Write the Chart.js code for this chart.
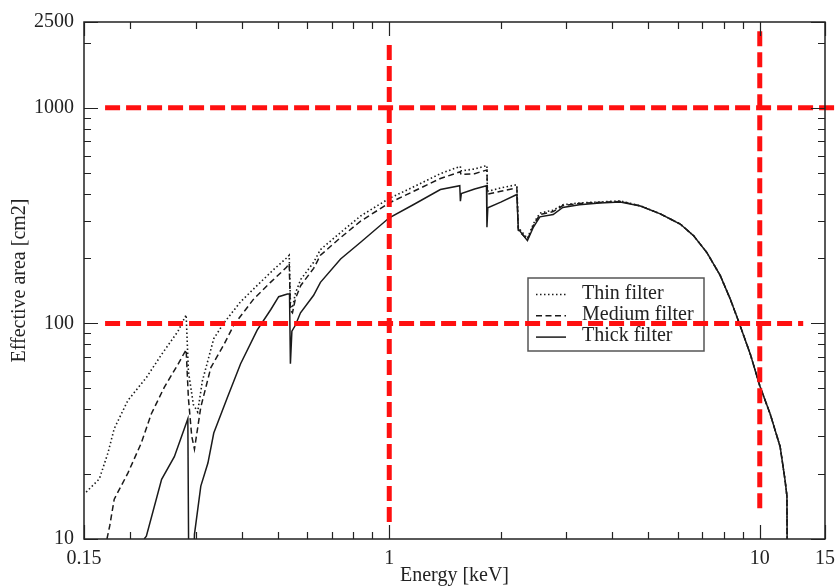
<!DOCTYPE html>
<html>
<head>
<meta charset="utf-8">
<script src="https://cdn.jsdelivr.net/npm/chart.js@4/dist/chart.umd.min.js"></script>
<style>
  html, body { margin: 0; padding: 0; background: #fff; }
  #wrap { width: 836px; height: 586px; }
</style>
</head>
<body>
<div id="wrap"><canvas id="effArea"></canvas></div>
<script>
// energy in keV, effective area in cm2
let thinEnergy = [0.152, 0.165, 0.174, 0.181, 0.197, 0.221, 0.243, 0.269, 0.283, 0.287, 0.296, 0.304, 0.313, 0.336, 0.357, 0.397, 0.44, 0.488, 0.528, 0.537, 0.541, 0.548, 0.558, 0.577, 0.625, 0.652, 0.739, 0.837, 1.0, 1.164, 1.374, 1.555, 1.562, 1.7, 1.835, 1.84, 1.85, 2.0, 2.21, 2.23, 2.36, 2.45, 2.55, 2.77, 2.94, 3.26, 3.7, 4.2, 4.76, 5.39, 6.1, 6.63, 7.2, 7.82, 8.32, 8.77, 9.43, 10.0, 10.67, 11.35, 11.7, 11.84, 11.86];
let thinArea = [16.5, 19.0, 25, 32.5, 43.9, 56.1, 71.8, 91.9, 109.6, 60, 42, 38.8, 54, 85, 100, 126, 150, 178, 201, 207, 125, 118, 138, 160, 192, 220, 264, 315, 380, 430, 495, 535, 510, 520, 540, 415, 410, 425, 440, 278, 248, 290, 325, 335, 355, 362, 366, 370, 351, 322, 289, 255, 213, 167, 130, 102, 72, 51.4, 38, 26.8, 18.8, 15.8, 8];

let mediumEnergy = [0.173, 0.176, 0.181, 0.197, 0.214, 0.228, 0.247, 0.269, 0.283, 0.287, 0.293, 0.298, 0.31, 0.33, 0.358, 0.381, 0.431, 0.478, 0.528, 0.537, 0.541, 0.548, 0.558, 0.577, 0.625, 0.652, 0.739, 0.837, 1.0, 1.164, 1.374, 1.555, 1.562, 1.7, 1.835, 1.84, 1.85, 2.0, 2.21, 2.23, 2.36, 2.45, 2.55, 2.77, 2.94, 3.26, 3.7, 4.2, 4.76, 5.39, 6.1, 6.63, 7.2, 7.82, 8.32, 8.77, 9.43, 10.0, 10.67, 11.35, 11.7, 11.84, 11.86];
let mediumArea = [10, 11.5, 15.3, 20.2, 27.8, 38.1, 50.5, 64.6, 75.6, 45, 30, 26.1, 40.9, 62.4, 79.8, 98.6, 130, 155, 182, 190, 115, 112, 130, 150, 180, 207, 250, 298, 362, 410, 470, 505, 490, 495, 515, 405, 398, 410, 425, 270, 245, 285, 320, 330, 352, 360, 364, 368, 351, 322, 289, 255, 213, 167, 130, 102, 72, 51.4, 38, 26.8, 18.8, 15.8, 8];

let thickEnergy = [0.218, 0.221, 0.243, 0.263, 0.286, 0.2875, 0.297, 0.298, 0.31, 0.324, 0.336, 0.365, 0.397, 0.44, 0.479, 0.503, 0.531, 0.538, 0.541, 0.546, 0.558, 0.576, 0.625, 0.652, 0.739, 0.837, 1.0, 1.164, 1.374, 1.55, 1.556, 1.565, 1.7, 1.83, 1.835, 1.845, 2.0, 2.21, 2.23, 2.36, 2.45, 2.55, 2.77, 2.94, 3.26, 3.7, 4.2, 4.76, 5.39, 6.1, 6.63, 7.2, 7.82, 8.32, 8.77, 9.43, 10.0, 10.67, 11.35, 11.7, 11.84, 11.86];
let thickArea = [10, 10.3, 18.9, 24.1, 36.1, 8, 8, 10.5, 17.6, 22.5, 31, 45, 65, 93, 116, 133, 137, 137, 65, 92, 98, 112, 135, 155, 199, 238, 309, 356, 418, 435, 369, 400, 420, 435, 279, 344, 365, 396, 274, 242, 280, 312, 320, 345, 355, 362, 366, 350, 322, 289, 255, 213, 167, 130, 102, 72, 51.4, 38, 26.8, 18.8, 15.8, 8];

let seriesNames = ["Thin filter", "Medium filter", "Thick filter"];

// red marker lines
let refEnergies = [1, 10];
let refAreas = [100, 1000];

let xTickValues = [0.15, 0.2, 0.3, 0.4, 0.5, 0.6, 0.7, 0.8, 0.9, 1, 2, 3, 4, 5, 6, 7, 8, 9, 10, 15];
let xTickLabels = [0.15, 1, 10, 15];
let yTickValues = [10, 20, 30, 40, 50, 60, 70, 80, 90, 100, 200, 300, 400, 500, 600, 700, 800, 900, 1000, 2000, 2500];
let yTickLabels = [10, 100, 1000, 2500];

function toPoints(xs, ys) {
    return xs.map((v, i) => ({x: v, y: ys[i]}));
}

// how far each red line runs, in data units
let vLineSpans = [[12, 2018], [13.9, 2366]];
let hLineSpans = [[0.171, 13.1], [0.171, 16.2]];

let refStyle = {
    borderColor: "#ff1010",
    borderWidth: 5,
    borderDash: [15, 6],
    pointRadius: 0,
    showLine: true,
    clip: false,
    order: 0
};

let datasets = [];
refEnergies.forEach((e, i) => {
    datasets.push(Object.assign({data: [{x: e, y: vLineSpans[i][0]}, {x: e, y: vLineSpans[i][1]}]}, refStyle));
});
refAreas.forEach((a, i) => {
    datasets.push(Object.assign({data: [{x: hLineSpans[i][0], y: a}, {x: hLineSpans[i][1], y: a}]}, refStyle));
});

let curveStyles = [
    {borderDash: [1.5, 2.5], borderWidth: 1.6},
    {borderDash: [6, 3.5], borderWidth: 1.5},
    {borderDash: [], borderWidth: 1.5}
];
[[thinEnergy, thinArea], [mediumEnergy, mediumArea], [thickEnergy, thickArea]].forEach((s, i) => {
    datasets.push({
        label: seriesNames[i],
        data: toPoints(s[0], s[1]),
        borderColor: "#1a1a1a",
        borderWidth: curveStyles[i].borderWidth,
        borderDash: curveStyles[i].borderDash,
        pointRadius: 0,
        showLine: true,
        tension: 0,
        order: 1
    });
});

let serif = "'Liberation Serif', 'Times New Roman', serif";

// legend box inside the plot, drawn under the red lines
const boxLegend = {
    id: "boxLegend",
    beforeDatasetsDraw(chart) {
        let ctx = chart.ctx;
        ctx.save();
        ctx.fillStyle = "#fff";
        ctx.fillRect(528, 278, 176, 73);
        ctx.strokeStyle = "#555";
        ctx.lineWidth = 1.5;
        ctx.strokeRect(528, 278, 176, 73);
        ctx.font = "20px " + serif;
        ctx.textBaseline = "middle";
        ctx.fillStyle = "#222";
        chart.data.datasets.filter(d => d.label).forEach((d, i) => {
            let yy = 293.5 + i * 21.3;
            ctx.setLineDash(d.borderDash);
            ctx.strokeStyle = d.borderColor;
            ctx.lineWidth = d.borderWidth;
            ctx.beginPath();
            ctx.moveTo(536, yy + 1);
            ctx.lineTo(566, yy + 1);
            ctx.stroke();
            ctx.setLineDash([]);
            ctx.fillText(d.label, 582, yy);
        });
        ctx.restore();
    }
};

// frame with inward ticks on all four sides
const frameTicks = {
    id: "frameTicks",
    afterDatasetsDraw(chart) {
        let ctx = chart.ctx;
        let a = chart.chartArea;
        let x = chart.scales.x, y = chart.scales.y;
        ctx.save();
        ctx.strokeStyle = "#222";
        ctx.lineWidth = 1.5;
        ctx.strokeRect(a.left, a.top, a.right - a.left, a.bottom - a.top);
        ctx.lineWidth = 1.2;
        ctx.beginPath();
        x.ticks.forEach(t => {
            let px = Math.round(x.getPixelForValue(t.value)) + 0.5;
            let len = xTickLabels.includes(t.value) ? 14 : 7;
            ctx.moveTo(px, a.bottom); ctx.lineTo(px, a.bottom - len);
            ctx.moveTo(px, a.top); ctx.lineTo(px, a.top + len);
        });
        y.ticks.forEach(t => {
            let py = Math.round(y.getPixelForValue(t.value)) + 0.5;
            let len = yTickLabels.includes(t.value) ? 14 : 7;
            ctx.moveTo(a.left, py); ctx.lineTo(a.left + len, py);
            ctx.moveTo(a.right, py); ctx.lineTo(a.right - len, py);
        });
        ctx.stroke();
        ctx.restore();
    }
};

new Chart(document.getElementById("effArea").getContext("2d"), {
    type: "scatter",
    data: {datasets: datasets},
    options: {
        responsive: true,
        maintainAspectRatio: false,
        animation: false,
        devicePixelRatio: 1,
        layout: {padding: {top: 19, right: 11, left: 0, bottom: 0}},
        plugins: {
            legend: {display: false},
            tooltip: {enabled: false}
        },
        scales: {
            x: {
                type: "logarithmic",
                min: 0.15,
                max: 15,
                grid: {display: false, drawTicks: false},
                border: {display: false},
                afterBuildTicks: s => { s.ticks = xTickValues.map(v => ({value: v})); },
                afterFit: s => {
                    s.height = 47;
                    s.paddingLeft = 0;
                    s.paddingRight = 0;
                },
                ticks: {
                    autoSkip: false,
                    maxRotation: 0,
                    padding: 8,
                    color: "#222",
                    font: {family: serif, size: 20},
                    callback: v => xTickLabels.includes(v) ? String(v) : ""
                },
                title: {
                    display: true,
                    text: "Energy [keV]",
                    color: "#222",
                    font: {family: serif, size: 20},
                    padding: {top: 0, bottom: -2}
                }
            },
            y: {
                type: "logarithmic",
                min: 10,
                max: 2500,
                grid: {display: false, drawTicks: false},
                border: {display: false},
                afterBuildTicks: s => { s.ticks = yTickValues.map(v => ({value: v})); },
                afterFit: s => { s.width = 84; },
                ticks: {
                    autoSkip: false,
                    padding: 10,
                    color: "#222",
                    font: {family: serif, size: 20},
                    callback: v => yTickLabels.includes(v) ? String(v) : ""
                },
                title: {
                    display: true,
                    text: "Effective area [cm2]",
                    color: "#222",
                    font: {family: serif, size: 20},
                    padding: {top: 8, bottom: 0}
                }
            }
        }
    },
    plugins: [boxLegend, frameTicks]
});
</script>
</body>
</html>
